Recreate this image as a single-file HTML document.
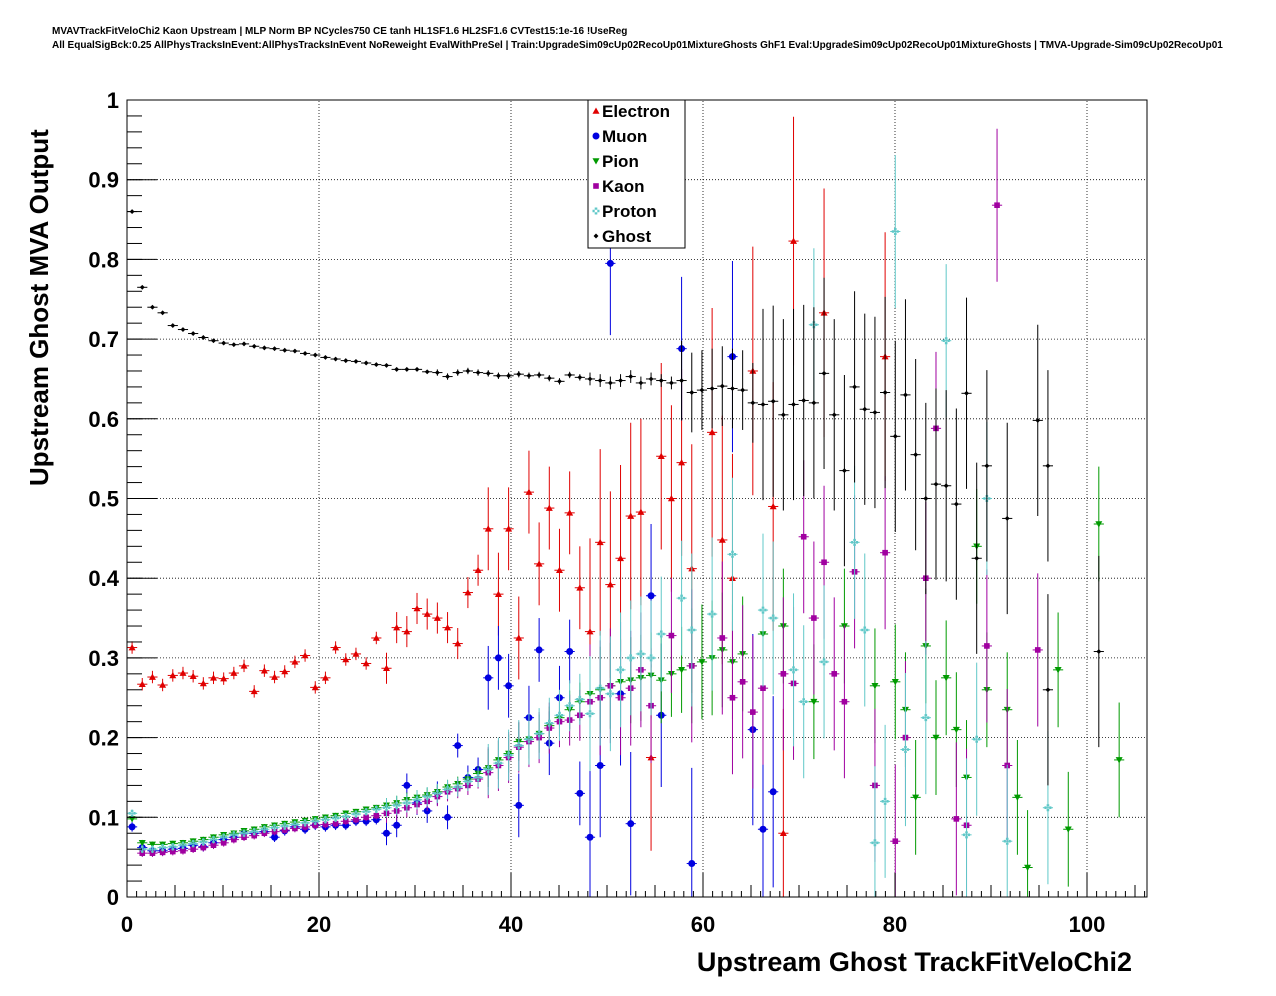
<!DOCTYPE html>
<html><head><meta charset="utf-8"><style>
body{margin:0;background:#fff;}
svg{display:block;font-family:"Liberation Sans",sans-serif;}
</style></head><body>
<svg id="c" width="1276" height="996">
<text x="52" y="34" font-size="10" font-weight="bold">MVAVTrackFitVeloChi2 Kaon Upstream | MLP Norm BP NCycles750 CE tanh HL1SF1.6 HL2SF1.6 CVTest15:1e-16 !UseReg</text>
<text x="52" y="48" font-size="10" font-weight="bold">All EqualSigBck:0.25 AllPhysTracksInEvent:AllPhysTracksInEvent NoReweight EvalWithPreSel | Train:UpgradeSim09cUp02RecoUp01MixtureGhosts GhF1 Eval:UpgradeSim09cUp02RecoUp01MixtureGhosts | TMVA-Upgrade-Sim09cUp02RecoUp01</text>
<g id="grid"></g>
<g id="marks"></g>
<rect x="127" y="100" width="1020" height="797" fill="none" stroke="#000"/>
<g id="axes"></g>
<text x="1132" y="971" font-size="27" font-weight="bold" text-anchor="end">Upstream Ghost TrackFitVeloChi2</text>
<text transform="translate(48,486) rotate(-90)" font-size="26" font-weight="bold">Upstream Ghost MVA Output</text>
<g id="legend"></g>
</svg>
<script>
const xTicks=[0,20,40,60,80,100];
const yTicks=[0,0.1,0.2,0.3,0.4,0.5,0.6,0.7,0.8,0.9,1];
const yTickLabels=["0","0.1","0.2","0.3","0.4","0.5","0.6","0.7","0.8","0.9","1"];
const binWidth=1.06;
const seriesNames=["Electron","Muon","Pion","Kaon","Proton","Ghost"];
const electronDense=[0.313,0.267,0.276,0.266,0.278,0.281,0.277,0.268,0.275,0.274,0.281,0.290,0.258,0.284,0.276,0.283,0.295,0.303,0.263,0.275,0.313,0.298,0.305,0.293,0.325,0.287,0.338,0.333,0.362,0.355,0.350,0.338,0.318,0.382,0.410,0.462,0.380,0.462,0.325,0.508,0.418,0.488,0.410,0.482,0.388,0.333,0.445,0.392,0.425,0.478,0.483,0.175,0.553,0.500,0.545,0.412];
const electronSparseIdx=[57,58,59,61,63,64,65,68,74];
const electronSparseVal=[0.583,0.448,0.400,0.660,0.490,0.080,0.823,0.733,0.678];
const muonDense=[0.088,0.062,0.058,0.058,0.060,0.061,0.065,0.063,0.068,0.072,0.075,0.080,0.080,0.082,0.075,0.083,0.088,0.085,0.090,0.088,0.090,0.090,0.095,0.095,0.097,0.080,0.090,0.140,0.118,0.108,0.130,0.100,0.190,0.150,0.160,0.275,0.300,0.265];
const muonSparseIdx=[38,39,40,41,42,43,44,45,46,47,48,49,51,52,54,55,59,61,62,63];
const muonSparseVal=[0.115,0.225,0.310,0.193,0.250,0.308,0.130,0.075,0.165,0.795,0.255,0.092,0.378,0.228,0.688,0.042,0.678,0.210,0.085,0.132];
const pionDense=[0.098,0.068,0.066,0.066,0.067,0.068,0.070,0.072,0.075,0.078,0.080,0.083,0.085,0.088,0.090,0.092,0.094,0.096,0.098,0.100,0.102,0.105,0.107,0.110,0.112,0.115,0.118,0.122,0.125,0.128,0.132,0.138,0.142,0.148,0.155,0.162,0.172,0.180,0.195,0.198,0.205,0.215,0.225,0.235,0.245,0.255,0.260,0.265,0.270,0.272,0.275,0.278,0.272,0.280,0.285,0.290,0.295];
const pionSparseIdx=[57,58,59,60,62,64,67,70,73,75,76,77,78,79,80,81,82,83,84,86,87,88,91,92,95,97];
const pionSparseVal=[0.300,0.310,0.295,0.305,0.330,0.340,0.245,0.340,0.265,0.270,0.235,0.125,0.315,0.200,0.275,0.210,0.150,0.440,0.260,0.235,0.125,0.037,0.285,0.085,0.468,0.172];
const kaonDense=[null,0.055,0.055,0.056,0.057,0.058,0.060,0.062,0.065,0.068,0.072,0.075,0.077,0.080,0.082,0.084,0.086,0.088,0.090,0.091,0.092,0.095,0.097,0.100,0.102,0.105,0.108,0.112,0.116,0.120,0.126,0.132,0.136,0.140,0.148,0.156,0.165,0.175,0.188,0.195,0.200,0.212,0.220,0.222,0.228,0.245,0.250,0.265,0.250,0.262,0.285];
const kaonSparseIdx=[51,53,55,58,59,60,61,62,64,65,66,67,68,69,70,71,73,74,75,76,78,79,81,82,84,85,86,89];
const kaonSparseVal=[0.240,0.328,0.290,0.325,0.250,0.270,0.232,0.262,0.280,0.268,0.452,0.350,0.420,0.280,0.245,0.408,0.140,0.432,0.070,0.200,0.400,0.588,0.098,0.090,0.315,0.868,0.165,0.310];
const protonDense=[0.105,0.060,0.060,0.062,0.063,0.065,0.067,0.069,0.072,0.075,0.078,0.080,0.082,0.085,0.087,0.089,0.091,0.093,0.095,0.097,0.099,0.101,0.104,0.107,0.110,0.112,0.115,0.118,0.122,0.126,0.130,0.135,0.138,0.145,0.150,0.160,0.168,0.178,0.190,0.198,0.205,0.218,0.228,0.240,0.248,0.230,0.262,0.255,0.285,0.300,0.305,0.300,0.330];
const protonSparseIdx=[54,55,57,59,62,63,65,66,67,68,71,72,73,74,75,76,78,80,82,83,84,86,90];
const protonSparseVal=[0.375,0.335,0.355,0.430,0.360,0.350,0.285,0.245,0.718,0.295,0.445,0.335,0.068,0.120,0.835,0.185,0.225,0.698,0.078,0.198,0.500,0.070,0.112];
const ghostDense=[0.860,0.765,0.740,0.733,0.717,0.712,0.707,0.702,0.698,0.695,0.693,0.694,0.691,0.689,0.688,0.686,0.685,0.682,0.680,0.677,0.675,0.673,0.672,0.670,0.668,0.667,0.662,0.662,0.662,0.659,0.658,0.653,0.658,0.660,0.658,0.657,0.654,0.654,0.656,0.654,0.655,0.651,0.647,0.655,0.652,0.650,0.648,0.645,0.648,0.653,0.645,0.650,0.648,0.645,0.648];
const ghostSparseIdx=[55,56,57,58,59,60,61,62,63,64,65,66,67,68,69,70,71,72,73,74,75,76,77,78,79,80,81,82,83,84,86,89,90];
const ghostSparseVal=[0.633,0.636,0.638,0.641,0.638,0.636,0.620,0.618,0.622,0.605,0.618,0.623,0.620,0.657,0.605,0.535,0.640,0.612,0.608,0.633,0.578,0.630,0.555,0.500,0.518,0.516,0.493,0.632,0.425,0.541,0.475,0.598,0.260];
const extraGhostIdx=[90,95];
const extraGhostVal=[0.541,0.308];
const X0=127,X1=1147,Y0=897,Y1=100,XMAX=106.25;
function sx(v){return X0+(v/XMAX)*(X1-X0);}
function sy(v){return Y0-v*(Y0-Y1);}
const NS="http://www.w3.org/2000/svg";
function mk(tag,attrs,parent){const e=document.createElementNS(NS,tag);for(const k in attrs)e.setAttribute(k,attrs[k]);parent.appendChild(e);return e;}
const grid=document.getElementById('grid'),axes=document.getElementById('axes'),marks=document.getElementById('marks'),legend=document.getElementById('legend');
xTicks.forEach(t=>{
 if(t>0){const g=mk('line',{x1:sx(t),x2:sx(t),y1:Y0,y2:Y1,stroke:'#000','stroke-dasharray':'1,2','stroke-width':0.8},grid);
 
 }
 const tl=mk('text',{x:sx(t),y:Y0+35,'font-size':22,'font-weight':'bold','text-anchor':'middle'},axes);tl.textContent=t;
 
 
 mk('line',{x1:sx(t),x2:sx(t),y1:Y0,y2:Y0-24,stroke:'#000'},axes);
});
for(let t=0;t<=106;t+=5){mk('line',{x1:sx(t),x2:sx(t),y1:Y0,y2:Y0-12,stroke:'#000'},axes);}
for(let t=0;t<=106;t+=1){mk('line',{x1:sx(t),x2:sx(t),y1:Y0,y2:Y0-6,stroke:'#000'},axes);}
yTicks.forEach((t,i)=>{
 if(t>0&&t<1){const g=mk('line',{x1:X0,x2:X1,y1:sy(t),y2:sy(t),stroke:'#000','stroke-dasharray':'1,2','stroke-width':0.8},grid);
 
 }
 const tl=mk('text',{x:X0-8,y:sy(t)+8,'font-size':22,'font-weight':'bold','text-anchor':'end'},axes);tl.textContent=yTickLabels[i];
 
 
 mk('line',{x1:X0,x2:X0+30,y1:sy(t),y2:sy(t),stroke:'#000'},axes);
});
for(let t=0;t<=1.0001;t+=0.02){mk('line',{x1:X0,x2:X0+15,y1:sy(t),y2:sy(t),stroke:'#000'},axes);}
const colors={Electron:'#e00000',Muon:'#0000e0',Pion:'#009a00',Kaon:'#a000a0',Proton:'#60c8c8',Ghost:'#000'};
function marker(p,name,x,y,s){
 const c=colors[name];let e;
 if(name==='Electron')e=mk('polygon',{points:`${x},${y-s} ${x-s},${y+s*0.8} ${x+s},${y+s*0.8}`,fill:c},p);
 else if(name==='Muon')e=mk('circle',{cx:x,cy:y,r:s,fill:c},p);
 else if(name==='Pion')e=mk('polygon',{points:`${x},${y+s} ${x-s},${y-s*0.8} ${x+s},${y-s*0.8}`,fill:c},p);
 else if(name==='Kaon')e=mk('rect',{x:x-s*0.8,y:y-s*0.8,width:s*1.6,height:s*1.6,fill:c},p);
 else if(name==='Proton')e=mk('path',{d:`M${x-s},${y-1.3}h${2*s}v2.6h${-2*s}z M${x-1.3},${y-s}v${2*s}h2.6v${-2*s}z`,fill:c},p);
 else e=mk('polygon',{points:`${x},${y-s*0.7} ${x+s*0.7},${y} ${x},${y+s*0.7} ${x-s*0.7},${y}`,fill:c},p);
 return e;
}
function errFor(i){
 if(i<25)return 0.006; if(i<35)return 0.015; if(i<45)return 0.04; if(i<55)return 0.09; return 0.12;}
function ghostErr(i){
 if(i<30)return 0.002; if(i<45)return 0.004; if(i<54)return 0.008; if(i<62)return 0.05; return 0.12;}
function drawSeries(name,dense,sIdx,sVal,errScale){
 const g=mk('g',{},marks);
 
 
 const pts=[];dense.forEach((v,i)=>{if(v!==null)pts.push([i,v]);});
 sIdx.forEach((i,k)=>pts.push([i,sVal[k]]));
 pts.forEach(([i,v])=>{
  const xc=(i+0.5)*binWidth,x=sx(xc),y=sy(v);
  const e=(name==='Ghost'?ghostErr(i):errFor(i))*errScale;
  mk('line',{x1:sx(xc-binWidth/2),x2:sx(xc+binWidth/2),y1:y,y2:y,stroke:colors[name],'stroke-width':1},g);
  mk('line',{x1:x,x2:x,y1:sy(Math.max(0,v-e)),y2:sy(Math.min(1,v+e)),stroke:colors[name],'stroke-width':1},g);
  const m=marker(g,name,x,y,3.5);
  
  
 });
}
drawSeries('Electron',electronDense,electronSparseIdx,electronSparseVal,1.3);
drawSeries('Muon',muonDense,muonSparseIdx,muonSparseVal,1.0);
drawSeries('Pion',pionDense,pionSparseIdx,pionSparseVal,0.6);
drawSeries('Kaon',kaonDense,kaonSparseIdx,kaonSparseVal,0.8);
drawSeries('Proton',protonDense,protonSparseIdx,protonSparseVal,0.8);
drawSeries('Ghost',ghostDense,ghostSparseIdx.concat(extraGhostIdx),ghostSparseVal.concat(extraGhostVal),1.0);
const lb=mk('rect',{x:588,y:100,width:97,height:148,fill:'#fff',stroke:'#000'},legend);


seriesNames.forEach((n,i)=>{
 const y=111+i*25;
 const g=mk('g',{},legend);
 
 
 marker(g,n,596,y,3.5);
 const t=mk('text',{x:602,y:y+6,'font-size':17,'font-weight':'bold'},g);t.textContent=n;
});
</script>
</body></html>
